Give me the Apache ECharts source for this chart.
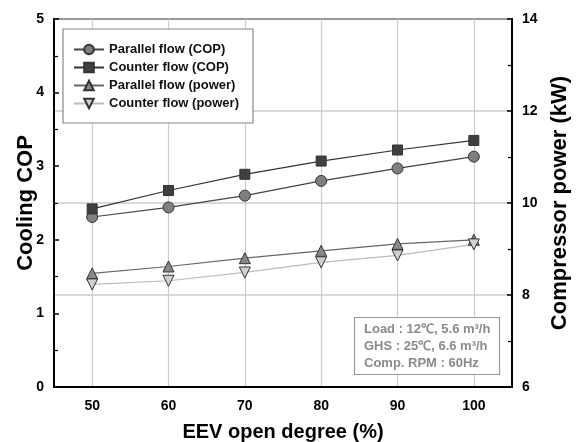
<!DOCTYPE html>
<html>
<head>
<meta charset="utf-8">
<script src="https://cdn.jsdelivr.net/npm/echarts@6/dist/echarts.min.js"></script>
<style>
  html, body { margin: 0; padding: 0; background: #fff; }
  #chart { width: 580px; height: 442px; }
</style>
</head>
<body>
<div id="chart"></div>
<script>
var openDegree = ['50', '60', '70', '80', '90', '100'];
var parallelCop = [2.31, 2.44, 2.60, 2.80, 2.97, 3.13];
var counterCop = [2.42, 2.67, 2.89, 3.07, 3.22, 3.35];
var parallelPower = [8.47, 8.62, 8.80, 8.96, 9.11, 9.20];
var counterPower = [8.23, 8.31, 8.49, 8.71, 8.86, 9.10];

var font = 'Liberation Sans, Arial, sans-serif';
var downTriangle = 'path://M0,0 L10,0 L5,9 Z';

var chart = echarts.init(document.getElementById('chart'));

function lineSeries(name, data, axis, symbol, fill, lineColor, size) {
  return {
    name: name,
    type: 'line',
    yAxisIndex: axis,
    data: data,
    symbol: symbol,
    symbolSize: size,
    showAllSymbol: true,
    lineStyle: { color: lineColor, width: 1.2 },
    itemStyle: { color: fill, borderColor: '#333', borderWidth: 1 },
    emphasis: { disabled: true },
    z: 3
  };
}

var option = {
  animation: false,
  textStyle: { fontFamily: font },
  grid: {
    left: 54, right: 68, top: 19, bottom: 55,
    outerBoundsMode: 'none',
    containLabel: false,
    show: true, borderColor: '#000', borderWidth: 2, backgroundColor: '#fff'
  },
  legend: {
    orient: 'vertical',
    left: 63, top: 29,
    padding: [14, 14, 13, 10],
    itemWidth: 30, itemHeight: 12, itemGap: 5,
    backgroundColor: '#fff',
    borderColor: '#888', borderWidth: 1.2,
    textStyle: { fontSize: 13, fontWeight: 'bold', color: '#111', fontFamily: font },
    data: ['Parallel flow (COP)', 'Counter flow (COP)', 'Parallel flow (power)', 'Counter flow (power)']
  },
  title: {
    text: 'Load : 12℃, 5.6 m³/h\nGHS : 25℃, 6.6 m³/h\nComp. RPM : 60Hz',
    left: 354, top: 317,
    padding: [4, 9, 3, 10],
    borderColor: '#999', borderWidth: 1.2,
    backgroundColor: '#fff',
    textStyle: { fontSize: 13, fontWeight: 'bold', color: '#8a8a8a', lineHeight: 17, fontFamily: font }
  },
  xAxis: {
    type: 'category',
    data: openDegree,
    boundaryGap: true,
    name: 'EEV open degree (%)',
    nameLocation: 'middle',
    nameGap: 35,
    nameTextStyle: { fontSize: 20, fontWeight: 'bold', color: '#000' },
    axisLine: { lineStyle: { color: '#000', width: 2 } },
    axisTick: { alignWithLabel: true, inside: true, length: 5, lineStyle: { color: '#000', width: 1.5 } },
    axisLabel: { fontSize: 14, fontWeight: 'bold', color: '#000', margin: 12 },
    splitLine: { show: true, alignWithLabel: true, lineStyle: { color: '#ccc', width: 1.2 } }
  },
  yAxis: [{
    type: 'value',
    min: 0, max: 5, interval: 1,
    name: 'Cooling COP',
    nameLocation: 'middle',
    nameRotate: 90,
    nameGap: 17,
    nameMoveOverlap: false,
    nameTextStyle: { fontSize: 22, fontWeight: 'bold', color: '#000' },
    axisLine: { show: true, lineStyle: { color: '#000', width: 2 } },
    axisTick: { show: true, inside: true, length: 5, lineStyle: { color: '#000', width: 1.5 } },
    minorTick: { show: true, splitNumber: 2, length: 4, lineStyle: { color: '#000', width: 1.2 } },
    axisLabel: { fontSize: 14, fontWeight: 'bold', color: '#000', margin: 10 },
    splitLine: { show: false }
  }, {
    type: 'value',
    min: 6, max: 14, interval: 2,
    position: 'right',
    name: 'Compressor power (kW)',
    nameLocation: 'middle',
    nameRotate: 90,
    nameGap: 36,
    nameTextStyle: { fontSize: 22, fontWeight: 'bold', color: '#000' },
    axisLine: { show: true, lineStyle: { color: '#000', width: 2 } },
    axisTick: { show: true, inside: true, length: 5, lineStyle: { color: '#000', width: 1.5 } },
    minorTick: { show: true, splitNumber: 2, length: 4, lineStyle: { color: '#000', width: 1.2 } },
    axisLabel: { fontSize: 14, fontWeight: 'bold', color: '#000', margin: 10 },
    splitLine: { show: true, lineStyle: { color: '#ccc', width: 1.5 } }
  }],
  series: [
    lineSeries('Parallel flow (COP)', parallelCop, 0, 'circle', '#7f7f7f', '#444', 11),
    lineSeries('Counter flow (COP)', counterCop, 0, 'rect', '#3f3f3f', '#333', 10),
    lineSeries('Parallel flow (power)', parallelPower, 1, 'triangle', '#888', '#666', 11),
    lineSeries('Counter flow (power)', counterPower, 1, downTriangle, '#d0d0d0', '#bbb', 11)
  ]
};

chart.setOption(option);
</script>
</body>
</html>
